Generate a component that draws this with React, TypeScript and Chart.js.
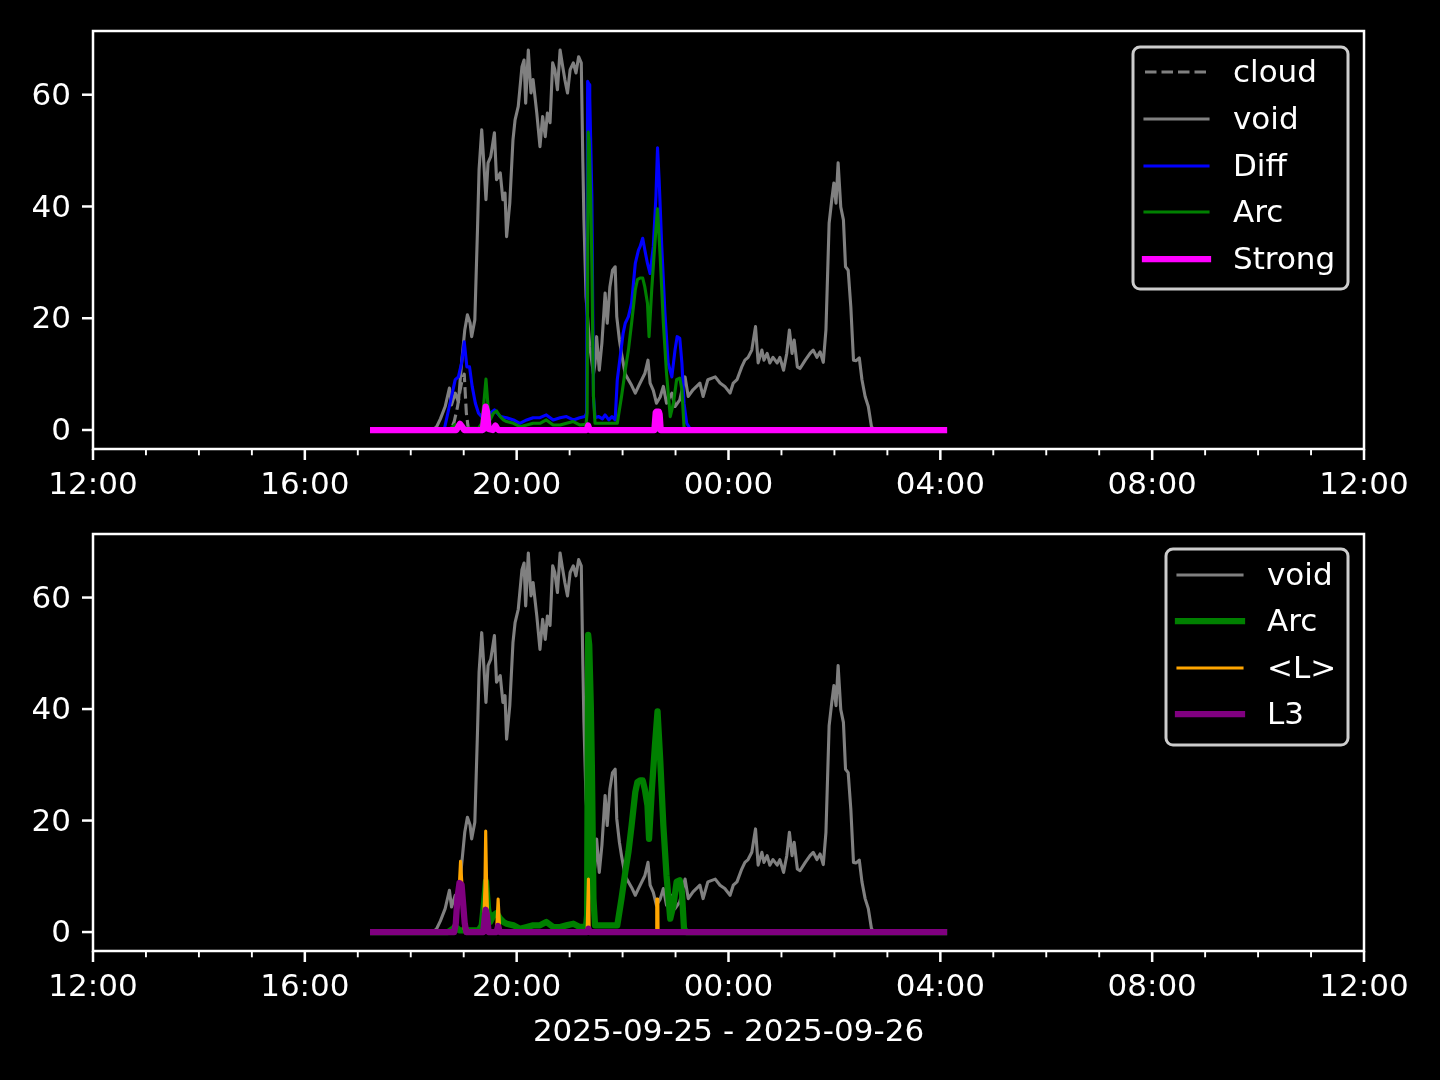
import React, { useEffect, useRef } from 'react';
import { Chart, registerables } from 'chart.js';

Chart.register(...registerables);

type Pt = [number, number];

const FONT = '"DejaVu Sans", sans-serif';
const FONT_SIZE = 31;

// axis definitions (hours since midnight of 2025-09-25)
const xTicks = [12, 16, 20, 24, 28, 32, 36];
const xMin = 12;
const xMax = 36;
const yTicks = [0, 20, 40, 60];
const yMin = -3.4;
const yMax = 71.4;
const dateLabel = '2025-09-25 - 2025-09-26';

// series: [hour, value]
const cloudSeries: Pt[] = [
  [17.29, 0], [18.76, 0], [18.82, 1.5], [18.88, 4], [18.93, 7], [18.97, 9], [19.01, 10], [19.05, 3], [19.09, 0], [28.07, 0],
];

const voidSeries: Pt[] = [
  [17.29, 0], [18.42, 0], [18.49, 0.6], [18.56, 2], [18.65, 4.2], [18.73, 7.5], [18.77, 4.5], [18.84, 6.6], [18.9, 5],
  [18.96, 12], [19.02, 17.9], [19.07, 20.6], [19.12, 19.2], [19.15, 16.7], [19.21, 19.7], [19.26, 35.8], [19.29, 46.6],
  [19.34, 53.7], [19.38, 47.8], [19.42, 41.2], [19.46, 47.8], [19.51, 48.9], [19.58, 53.2], [19.62, 44.8], [19.69, 46],
  [19.74, 41.2], [19.78, 42.4], [19.81, 34.6], [19.87, 40.6], [19.93, 51.9], [19.97, 55.5], [20.03, 57.9], [20.1, 65],
  [20.14, 66.2], [20.17, 58.5], [20.22, 68], [20.27, 60.3], [20.31, 62.7], [20.38, 56.7], [20.44, 50.7], [20.49, 56.1],
  [20.54, 52.5], [20.58, 56.7], [20.63, 55], [20.68, 65.7], [20.72, 64.5], [20.77, 60.9], [20.82, 68], [20.87, 65],
  [20.91, 62.7], [20.96, 60.3], [21.01, 64.5], [21.07, 65.7], [21.12, 63.9], [21.17, 66.8], [21.22, 65.7], [21.25, 47.8],
  [21.27, 37.6], [21.31, 23.8], [21.38, 15], [21.45, 10], [21.48, 12], [21.51, 16.7], [21.56, 10.7], [21.61, 15.6],
  [21.67, 24.5], [21.71, 19.1], [21.76, 25.6], [21.81, 28.6], [21.86, 29.2], [21.89, 20.3], [21.94, 16.1], [21.98, 13.7],
  [22.05, 10], [22.17, 8], [22.24, 6.6], [22.3, 7.8], [22.42, 10.1], [22.48, 12.5], [22.52, 8.4], [22.58, 7.1],
  [22.64, 4.8], [22.71, 5.9], [22.77, 7.8], [22.83, 4.8], [22.93, 6.6], [22.99, 4.2], [23.08, 5.4], [23.18, 9.5],
  [23.24, 6], [23.33, 7.2], [23.46, 8.4], [23.52, 6], [23.61, 9], [23.75, 9.5], [23.84, 8.4], [23.93, 7.8], [24.03, 6.6],
  [24.09, 8.4], [24.16, 9], [24.25, 11.3], [24.31, 12.5], [24.37, 13], [24.44, 14.3], [24.51, 18.5], [24.56, 12],
  [24.63, 14.3], [24.67, 12.5], [24.73, 13.7], [24.78, 12], [24.84, 13], [24.92, 12], [24.97, 13], [25.04, 10.7],
  [25.1, 13.7], [25.15, 17.9], [25.2, 13.7], [25.24, 16.1], [25.3, 11.3], [25.35, 11], [25.45, 12.5], [25.54, 13.7],
  [25.6, 14.3], [25.67, 13], [25.73, 14], [25.79, 12.1], [25.84, 17.9], [25.87, 27.4], [25.9, 37], [25.95, 41.2],
  [25.99, 44.2], [26.03, 40.6], [26.07, 47.8], [26.12, 39.9], [26.17, 37.6], [26.21, 29.2], [26.26, 28.6], [26.31, 22],
  [26.36, 12.5], [26.41, 12.4], [26.47, 12.9], [26.52, 9], [26.58, 6], [26.64, 4.2], [26.7, 0.6], [26.75, 0], [28.07, 0],
];

const diffSeries: Pt[] = [
  [17.29, 0], [18.63, 0], [18.7, 3], [18.77, 6], [18.84, 9], [18.9, 9.5], [18.96, 12], [19.01, 15.8], [19.06, 11.3],
  [19.11, 11.3], [19.16, 7.8], [19.22, 4.8], [19.28, 3], [19.34, 2.4], [19.42, 2.6], [19.5, 3], [19.58, 3.6], [19.69, 2.4],
  [19.81, 2.2], [19.94, 1.8], [20.06, 1.2], [20.19, 1.8], [20.31, 2.2], [20.44, 2.2], [20.56, 2.7], [20.69, 1.8],
  [20.82, 2.2], [20.94, 2.4], [21.07, 1.8], [21.19, 2.2], [21.29, 2.4], [21.32, 3], [21.34, 62.4], [21.37, 61.8],
  [21.38, 59.5], [21.42, 41.8], [21.45, 6], [21.48, 2.2], [21.55, 2.4], [21.62, 2], [21.67, 2.7], [21.74, 1.8],
  [21.8, 2.4], [21.86, 1.8], [21.9, 9], [21.94, 12], [22.01, 17.3], [22.05, 19.1], [22.11, 20.3], [22.17, 22.7],
  [22.24, 29.8], [22.3, 32.2], [22.33, 32.8], [22.38, 34.3], [22.42, 32.2], [22.47, 29.8], [22.52, 28], [22.58, 32.8],
  [22.63, 41.8], [22.66, 50.5], [22.69, 44.8], [22.74, 32.8], [22.8, 20.9], [22.86, 12], [22.93, 9.5], [22.99, 14.3],
  [23.03, 16.7], [23.08, 16.4], [23.12, 12], [23.16, 4.8], [23.21, 1.2], [23.27, 0.3], [23.35, 0], [28.07, 0],
];

const arcSeries: Pt[] = [
  [17.29, 0], [18.7, 0], [18.8, 0.6], [18.84, 1], [18.92, 0.3], [19.28, 0.3], [19.34, 1.2], [19.38, 4.8], [19.42, 9.1],
  [19.46, 4.2], [19.5, 1.8], [19.56, 3], [19.62, 3.4], [19.69, 2.4], [19.75, 1.8], [19.81, 1.5], [19.94, 1.2],
  [20.06, 0.6], [20.19, 0.9], [20.31, 1.2], [20.44, 1.2], [20.56, 1.8], [20.69, 0.9], [20.82, 0.9], [20.94, 1.2],
  [21.07, 1.5], [21.19, 0.9], [21.31, 1], [21.33, 3], [21.35, 53.3], [21.37, 51.5], [21.4, 40.6], [21.42, 29.8],
  [21.45, 6], [21.48, 1.2], [21.6, 1.2], [21.75, 1.2], [21.9, 1.2], [21.92, 2.4], [21.98, 6], [22.05, 10.7],
  [22.11, 14.3], [22.17, 19.1], [22.24, 25.1], [22.28, 26.9], [22.33, 27.2], [22.38, 27.2], [22.42, 25.6],
  [22.47, 22.7], [22.5, 16.7], [22.55, 25.1], [22.61, 33.4], [22.66, 39.6], [22.71, 31], [22.77, 19.1], [22.83, 10.1],
  [22.9, 2.4], [22.96, 4.8], [23.02, 9], [23.08, 9.3], [23.12, 7.2], [23.16, 0.6], [23.2, 0], [28.07, 0],
];

const strongSeries: Pt[] = [
  [17.29, 0], [18.86, 0], [18.9, 0.6], [18.93, 1.1], [18.97, 0.6], [19.01, 0], [19.36, 0], [19.39, 2.5], [19.415, 4.2],
  [19.44, 3.3], [19.47, 0.2], [19.55, 0], [19.58, 0.5], [19.6, 0.8], [19.63, 0.3], [19.66, 0], [21.32, 0], [21.35, 0.8],
  [21.38, 0], [22.6, 0], [22.625, 3.1], [22.64, 3.3], [22.685, 3.3], [22.7, 2.8], [22.72, 0], [28.07, 0],
];

const meanLSeries: Pt[] = [
  [17.29, 0], [18.8, 0], [18.84, 2], [18.9, 5], [18.94, 12.7], [18.97, 8], [19.01, 0.5], [19.04, 0], [19.37, 0],
  [19.4, 8], [19.415, 18.1], [19.43, 10], [19.46, 0.5], [19.49, 0], [19.62, 0], [19.65, 5.9], [19.68, 0.5], [19.7, 0],
  [21.33, 0], [21.355, 9.5], [21.37, 0], [22.64, 0], [22.645, 5.9], [22.665, 5.9], [22.67, 0], [28.07, 0],
];

const l3Series: Pt[] = [
  [17.29, 0], [18.82, 0], [18.85, 1.5], [18.88, 6], [18.92, 8.8], [18.96, 8.5], [18.99, 5], [19.02, 1.5], [19.05, 0],
  [19.37, 0], [19.4, 3], [19.415, 4], [19.44, 3], [19.47, 0], [19.62, 0], [19.65, 1.1], [19.68, 0], [21.33, 0],
  [21.355, 0.6], [21.38, 0], [28.07, 0],
];

const GRAY = '#808080';
const BLUE = '#0000ff';
const GREEN = '#008000';
const MAGENTA = '#ff00ff';
const ORANGE = '#ffa500';
const PURPLE = '#800080';
const THIN = 3.1;
const THICK = 6.25;
const DASH = [11.5, 5];

function toPoints(s: Pt[]) {
  return s.map(([x, y]) => ({ x, y }));
}

function fmtHour(v: number) {
  const h = ((Math.round(v) % 24) + 24) % 24;
  return String(h).padStart(2, '0') + ':00';
}

function ds(label: string, s: Pt[], color: string, width: number, order: number, dash?: number[]) {
  return {
    label,
    data: toPoints(s),
    borderColor: color,
    backgroundColor: color,
    borderWidth: width,
    borderDash: dash || [],
    borderCapStyle: dash ? 'butt' : 'square',
    borderJoinStyle: 'round',
    pointRadius: 0,
    pointHoverRadius: 0,
    fill: false,
    tension: 0,
    order,
  };
}

const framePlugin = {
  id: 'mplFrame',
  afterDatasetsDraw(chart: any) {
    const { ctx, chartArea: a, scales } = chart;
    ctx.save();
    ctx.strokeStyle = '#ffffff';
    ctx.setLineDash([]);
    ctx.lineCap = 'butt';
    ctx.lineWidth = 2.5;
    ctx.strokeRect(a.left, a.top, a.right - a.left, a.bottom - a.top);
    for (let h = xMin; h <= xMax; h++) {
      const px = scales.x.getPixelForValue(h);
      const major = xTicks.includes(h);
      ctx.lineWidth = major ? 2.5 : 1.9;
      ctx.beginPath();
      ctx.moveTo(px, a.bottom);
      ctx.lineTo(px, a.bottom + (major ? 11 : 6.3));
      ctx.stroke();
    }
    ctx.lineWidth = 2.5;
    yTicks.forEach((v) => {
      const py = scales.y.getPixelForValue(v);
      ctx.beginPath();
      ctx.moveTo(a.left - 11, py);
      ctx.lineTo(a.left, py);
      ctx.stroke();
    });
    ctx.restore();
  },
};

interface LegendItem {
  label: string;
  color: string;
  width: number;
  dash?: number[];
}

function makeLegend(
  items: LegendItem[],
  box: { left: number; top: number; right: number; bottom: number },
  hx0: number,
  hx1: number,
  textX: number,
  rows: number[],
  offsetY: number
) {
  return {
    id: 'boxLegend',
    afterDraw(chart: any) {
      const ctx = chart.ctx;
      ctx.save();
      const t = box.top - offsetY;
      const b = box.bottom - offsetY;
      ctx.beginPath();
      if (ctx.roundRect) ctx.roundRect(box.left, t, box.right - box.left, b - t, 7);
      else ctx.rect(box.left, t, box.right - box.left, b - t);
      ctx.fillStyle = 'rgba(0,0,0,0.8)';
      ctx.fill();
      ctx.lineWidth = 3;
      ctx.strokeStyle = '#cccccc';
      ctx.stroke();
      items.forEach((it, i) => {
        const y = rows[i] - offsetY;
        ctx.beginPath();
        ctx.setLineDash(it.dash || []);
        ctx.lineCap = it.dash ? 'butt' : 'square';
        ctx.strokeStyle = it.color;
        ctx.lineWidth = it.width;
        ctx.moveTo(hx0, y);
        ctx.lineTo(hx1, y);
        ctx.stroke();
        ctx.setLineDash([]);
        ctx.fillStyle = '#ffffff';
        ctx.font = `${FONT_SIZE}px ${FONT}`;
        ctx.textBaseline = 'middle';
        ctx.textAlign = 'left';
        ctx.fillText(it.label, textX, y + 2);
      });
      ctx.restore();
    },
  };
}

function buildConfig(datasets: any[], padTop: number, xHeight: number, legend: any, title?: string) {
  const tickFont = { family: FONT, size: FONT_SIZE };
  return {
    type: 'line',
    data: { datasets },
    options: {
      responsive: false,
      animation: false,
      events: [],
      layout: { padding: { left: 0, right: 76, top: padTop, bottom: 0 } },
      plugins: { legend: { display: false }, tooltip: { enabled: false } },
      scales: {
        x: {
          type: 'linear',
          min: xMin,
          max: xMax,
          afterBuildTicks: (s: any) => {
            s.ticks = xTicks.map((v) => ({ value: v }));
          },
          afterFit: (s: any) => {
            s.height = xHeight;
            s.paddingLeft = 0;
            s.paddingRight = 0;
            s.paddingTop = 0;
            s.paddingBottom = 0;
          },
          grid: { display: false, drawTicks: false },
          border: { display: false },
          ticks: {
            color: '#ffffff',
            font: tickFont,
            padding: 18,
            maxRotation: 0,
            autoSkip: false,
            callback: (v: any) => fmtHour(Number(v)),
          },
          title: title
            ? {
                display: true,
                text: title,
                color: '#ffffff',
                font: tickFont,
                padding: { top: 0, bottom: 28 },
              }
            : { display: false },
        },
        y: {
          type: 'linear',
          min: yMin,
          max: yMax,
          afterBuildTicks: (s: any) => {
            s.ticks = yTicks.map((v) => ({ value: v }));
          },
          afterFit: (s: any) => {
            s.width = 93;
            s.paddingLeft = 0;
            s.paddingRight = 0;
            s.paddingTop = 0;
            s.paddingBottom = 0;
          },
          grid: { display: false, drawTicks: false },
          border: { display: false },
          ticks: {
            color: '#ffffff',
            font: tickFont,
            padding: 22,
            labelOffset: 2,
            callback: (v: any) => String(v),
          },
        },
      },
    },
    plugins: [framePlugin, legend],
  };
}

const TOP_H = 520;
const BOT_TOP = 500;
const BOT_H = 580;

export default function App() {
  const topRef = useRef<HTMLCanvasElement | null>(null);
  const botRef = useRef<HTMLCanvasElement | null>(null);

  useEffect(() => {
    Chart.defaults.font.family = FONT;
    const topDatasets = [
      ds('cloud', cloudSeries, GRAY, THIN, 4, DASH),
      ds('void', voidSeries, GRAY, THIN, 3),
      ds('Diff', diffSeries, BLUE, THIN, 2),
      ds('Arc', arcSeries, GREEN, THIN, 1),
      ds('Strong', strongSeries, MAGENTA, THICK, 0),
    ];
    const topLegend = makeLegend(
      [
        { label: 'cloud', color: GRAY, width: THIN, dash: DASH },
        { label: 'void', color: GRAY, width: THIN },
        { label: 'Diff', color: BLUE, width: THIN },
        { label: 'Arc', color: GREEN, width: THIN },
        { label: 'Strong', color: MAGENTA, width: THICK },
      ],
      { left: 1133, top: 47, right: 1348, bottom: 289 },
      1145,
      1208,
      1233,
      [72, 119, 166, 212, 259],
      0
    );
    const botDatasets = [
      ds('void', voidSeries, GRAY, THIN, 3),
      ds('Arc', arcSeries, GREEN, THICK, 2),
      ds('<L>', meanLSeries, ORANGE, THIN, 1),
      ds('L3', l3Series, PURPLE, THICK, 0),
    ];
    const botLegend = makeLegend(
      [
        { label: 'void', color: GRAY, width: THIN },
        { label: 'Arc', color: GREEN, width: THICK },
        { label: '<L>', color: ORANGE, width: THIN },
        { label: 'L3', color: PURPLE, width: THICK },
      ],
      { left: 1166, top: 549, right: 1348, bottom: 745 },
      1178,
      1242,
      1267,
      [575, 621, 668, 714],
      BOT_TOP
    );
    const c1 = new Chart(topRef.current as any, buildConfig(topDatasets, 31, TOP_H - 449, topLegend) as any);
    const c2 = new Chart(
      botRef.current as any,
      buildConfig(botDatasets, 534 - BOT_TOP, BOT_H - (951 - BOT_TOP), botLegend, dateLabel) as any
    );
    return () => {
      c1.destroy();
      c2.destroy();
    };
  }, []);

  return (
    <div
      style={{
        position: 'absolute',
        left: 0,
        top: 0,
        width: 1440,
        height: 1080,
        background: '#000000',
        overflow: 'hidden',
      }}
    >
      <canvas
        ref={topRef}
        width={1440}
        height={TOP_H}
        style={{ position: 'absolute', left: 0, top: 0, width: 1440, height: TOP_H }}
      />
      <canvas
        ref={botRef}
        width={1440}
        height={BOT_H}
        style={{ position: 'absolute', left: 0, top: BOT_TOP, width: 1440, height: BOT_H }}
      />
    </div>
  );
}
